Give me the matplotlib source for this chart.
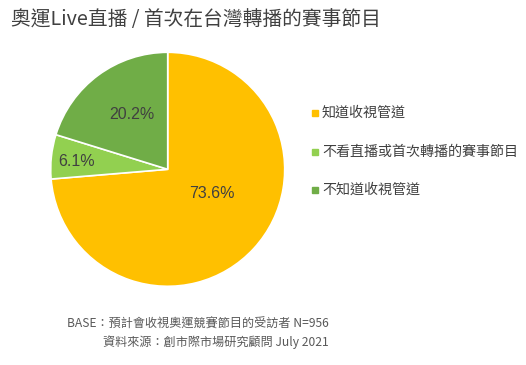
import numpy as np
import matplotlib
matplotlib.use("Agg")
import matplotlib.pyplot as plt

plt.rcParams['font.family'] = ['Noto Sans CJK TC', 'DejaVu Sans']

title = '奧運Live直播 / 首次在台灣轉播的賽事節目'
labels = ['知道收視管道', '不看直播或首次轉播的賽事節目', '不知道收視管道']
values = [73.6, 6.1, 20.2]
colors = ['#FFC000', '#92D050', '#70AD47']
footer = ['BASE：預計會收視奧運競賽節目的受訪者 N=956',
          '資料來源：創市際市場研究顧問 July 2021']

fig = plt.figure(figsize=(5.26, 3.65), dpi=100)
ax = fig.add_axes([(167.7 - 117) / 526, 1 - (169.3 + 117) / 365, 234 / 526, 234 / 365])

wedges, texts = ax.pie(values, colors=colors, startangle=90, counterclock=False, radius=1,
                       wedgeprops=dict(edgecolor='white', linewidth=1.2))
# percent labels where the reference puts them
label_pos = [(0.38, -0.21), (-0.78, 0.07), (-0.31, 0.47)]
for v, p in zip(values, label_pos):
    ax.text(p[0], p[1], '%.1f%%' % v, ha='center', va='center', fontsize=11.5,
            color='#404040', family='Liberation Sans')
ax.set_xlim(-1.0, 1.0)
ax.set_ylim(-1.0, 1.0)
ax.set_aspect('equal')

fig.text(11 / 526, 1 - 19 / 365, title, fontsize=14.2, color='#404040', va='center', ha='left')

ys = [113, 152, 190]
for lab, c, y in zip(labels, colors, ys):
    fig.patches.append(plt.Rectangle((312 / 526, 1 - (y + 3) / 365), 6 / 526, 6 / 365,
                                     transform=fig.transFigure, color=c))
    fig.text(322 / 526, 1 - y / 365, lab, fontsize=10.1, color='#404040', va='center', ha='left')

fig.text(329 / 526, 1 - 324 / 365, footer[0], fontsize=8.7, color='#595959', va='center', ha='right')
fig.text(329 / 526, 1 - 342 / 365, footer[1], fontsize=8.7, color='#595959', va='center', ha='right')

fig.savefig('out.png', dpi=100, facecolor='white')
